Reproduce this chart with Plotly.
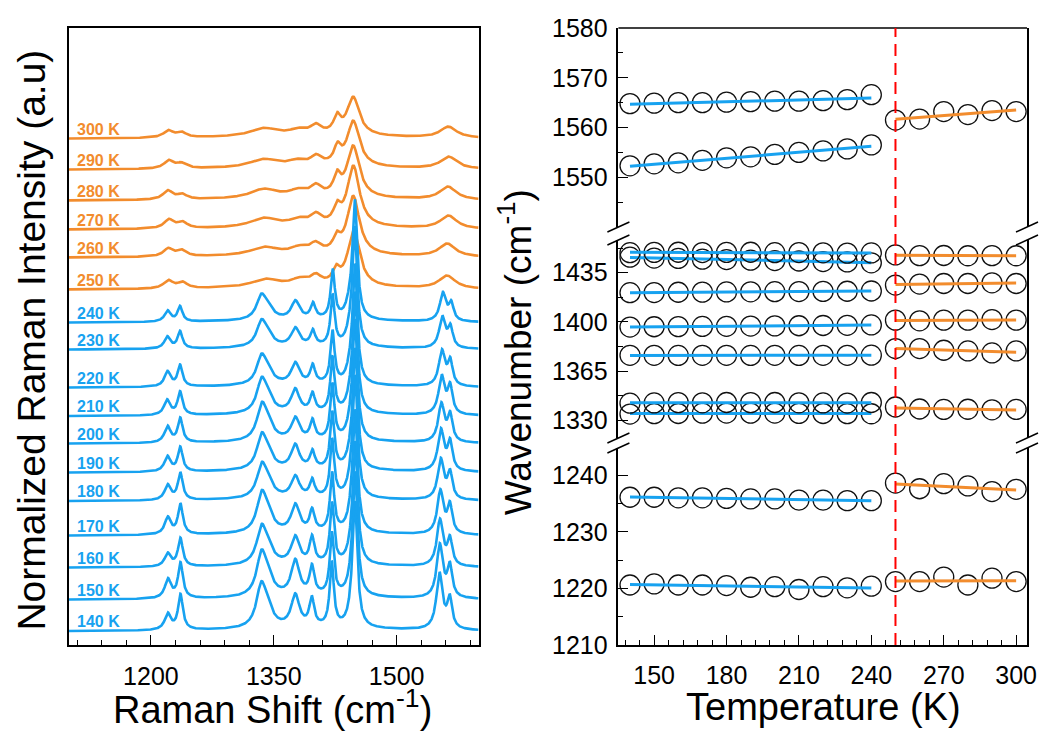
import numpy as np
import plotly.graph_objects as go

# ---------------------------------------------------------------- data
T_LOW = [140, 150, 160, 170, 180, 190, 200, 210, 220, 230, 240]
T_HIGH = [250, 260, 270, 280, 290, 300]

# fitted Raman mode positions (cm-1), low-temperature phase
NU_LOW_1221 = [1220.6, 1220.8, 1220.6, 1220.6, 1220.5, 1220.2, 1220.3, 1219.8, 1220.3, 1220.1, 1220.4]
NU_LOW_1236 = [1236.1, 1236.1, 1236.0, 1236.0, 1235.9, 1235.8, 1235.8, 1235.6, 1235.6, 1235.5, 1235.5]
NU_LOW_1335 = [1334.6, 1334.9, 1335.0, 1335.2, 1335.3, 1335.2, 1335.3, 1335.1, 1335.0, 1334.9, 1334.8]
NU_LOW_1342 = [1342.3, 1342.5, 1342.7, 1342.6, 1342.8, 1342.7, 1342.8, 1342.6, 1342.5, 1342.4, 1342.8]
NU_LOW_1376 = [1376.3, 1376.3, 1376.2, 1376.3, 1376.3, 1376.2, 1376.3, 1376.2, 1376.3, 1376.3, 1376.4]
NU_LOW_1397 = [1396.4, 1396.6, 1396.7, 1396.8, 1396.9, 1397.1, 1397.2, 1397.3, 1397.5, 1397.6, 1397.9]
NU_LOW_1421 = [1420.8, 1420.9, 1421.1, 1421.2, 1421.3, 1421.4, 1421.5, 1421.6, 1421.7, 1421.8, 1422.0]
NU_LOW_1443 = [1446.0, 1445.4, 1445.1, 1444.6, 1444.3, 1443.9, 1443.6, 1443.3, 1442.9, 1442.6, 1442.0]
NU_LOW_1449 = [1449.2, 1449.4, 1449.5, 1449.3, 1449.4, 1449.5, 1449.2, 1449.3, 1449.1, 1448.9, 1449.0]
NU_LOW_1553 = [1552.3, 1552.7, 1552.9, 1553.4, 1553.9, 1554.1, 1554.6, 1555.0, 1555.3, 1555.7, 1556.5]
NU_LOW_1565 = [1564.8, 1564.9, 1565.0, 1565.0, 1565.1, 1565.2, 1565.3, 1565.3, 1565.4, 1565.6, 1566.6]

# fitted Raman mode positions (cm-1), high-temperature phase
NU_HIGH_1221 = [1221.2, 1221.2, 1222.0, 1220.6, 1221.8, 1221.2]
NU_HIGH_1238 = [1238.6, 1237.6, 1238.5, 1238.1, 1237.1, 1237.5]
NU_HIGH_1338 = [1339.6, 1338.2, 1337.9, 1338.0, 1337.6, 1337.9]
NU_HIGH_1379 = [1381.1, 1381.1, 1379.9, 1379.4, 1378.0, 1379.4]
NU_HIGH_1401 = [1401.3, 1400.8, 1401.3, 1401.3, 1401.7, 1401.3]
NU_HIGH_1427 = [1426.2, 1426.9, 1427.3, 1427.3, 1427.8, 1427.3]
NU_HIGH_1447 = [1447.6, 1447.1, 1447.2, 1447.0, 1447.1, 1447.0]
NU_HIGH_1562 = [1561.5, 1561.7, 1563.2, 1562.6, 1563.4, 1563.2]

# peak amplitudes (a.u.) of each mode in the stacked spectra
AMP_LOW_1221 = [16, 19, 13, 17, 15, 15, 16, 15, 15, 12, 11]
AMP_LOW_1236 = [35, 35, 28, 30, 27, 24, 24, 23, 21, 17, 15]
AMP_LOW_1335 = [39, 39, 34, 35, 30, 31, 32, 30, 26, 23, 22]
AMP_LOW_1342 = [15, 15, 13, 14, 12, 12, 13, 12, 10, 9, 9]
AMP_LOW_1376 = [32, 35, 27, 27, 21, 24, 22, 23, 21, 18, 18]
AMP_LOW_1397 = [28, 28, 26, 21, 17, 17, 19, 18, 18, 15, 15]
AMP_LOW_1421 = [64, 62, 60, 58, 57, 56, 55, 54, 52, 50, 48]
AMP_LOW_1443 = [12, 12, 11, 11, 11, 10, 10, 10, 9, 9, 9]
AMP_LOW_1449 = [117, 117, 117, 117, 117, 117, 117, 117, 117, 117, 117]
AMP_LOW_1553 = [56, 53, 46, 43, 40, 41, 38, 38, 35, 31, 28]
AMP_LOW_1565 = [30, 31, 26, 28, 26, 28, 26, 27, 24, 20, 17]

AMP_HIGH_1221 = [8, 8, 9, 9, 8, 7]
AMP_HIGH_1238 = [6, 6, 6, 5, 5, 5]
AMP_HIGH_1338 = [8, 8, 9, 9, 8, 8]
AMP_HIGH_1379 = [6, 6, 6, 6, 5, 5]
AMP_HIGH_1401 = [9, 9, 10, 10, 9, 9]
AMP_HIGH_1427 = [13, 13, 15, 18, 16, 16]
AMP_HIGH_1447 = [55, 58, 60, 51, 45, 38]
AMP_HIGH_1562 = [13, 13, 13, 13, 12, 11]

# half widths (cm-1) of the modes, same order as the tables below
HWHM_LOW = [4.5, 3.5, 7.0, 8.0, 6.0, 3.5, 3.0, 5.0, 3.5, 4.5, 3.5]
HWHM_HIGH = [7.0, 7.0, 20.0, 12.0, 8.0, 5.0, 9.0, 12.0]

# broad fluorescence background under every spectrum
BG_CENTER, BG_HWHM, BG_AMP = 1400.0, 120.0, 3.0

# vertical stacking offset of each spectrum
OFFSET_LOW = [13.5, 45, 77, 109, 143.5, 172, 201, 228.5, 257, 295, 322]
OFFSET_HIGH = [355, 387, 415, 444, 475, 506]

# ---------------------------------------------------------------- style
BLUE = "#17A2F0"
ORANGE = "#F28C2D"
FONT = "Liberation Sans, Arial, sans-serif"

NU_LOW = [NU_LOW_1221, NU_LOW_1236, NU_LOW_1335, NU_LOW_1342, NU_LOW_1376, NU_LOW_1397,
          NU_LOW_1421, NU_LOW_1443, NU_LOW_1449, NU_LOW_1553, NU_LOW_1565]
AMP_LOW = [AMP_LOW_1221, AMP_LOW_1236, AMP_LOW_1335, AMP_LOW_1342, AMP_LOW_1376, AMP_LOW_1397,
           AMP_LOW_1421, AMP_LOW_1443, AMP_LOW_1449, AMP_LOW_1553, AMP_LOW_1565]
NU_HIGH = [NU_HIGH_1221, NU_HIGH_1238, NU_HIGH_1338, NU_HIGH_1379, NU_HIGH_1401,
           NU_HIGH_1427, NU_HIGH_1447, NU_HIGH_1562]
AMP_HIGH = [AMP_HIGH_1221, AMP_HIGH_1238, AMP_HIGH_1338, AMP_HIGH_1379, AMP_HIGH_1401,
            AMP_HIGH_1427, AMP_HIGH_1447, AMP_HIGH_1562]

shift = np.linspace(1100, 1600, 2001)


def lorentz(x, c, w, a):
    return a / (1.0 + ((x - c) / w) ** 2)


def spectrum(i, nus, amps, widths):
    y = lorentz(shift, BG_CENTER, BG_HWHM, BG_AMP)
    for nu, amp, w in zip(nus, amps, widths):
        y = y + lorentz(shift, nu[i], w, amp[i])
    return y


fig = go.Figure()
annotations = []

# stacked spectra: high-temperature phase (orange) underneath, low-temperature phase (blue) on top
for temps, nus, amps, widths, offsets, color in (
    (T_HIGH, NU_HIGH, AMP_HIGH, HWHM_HIGH, OFFSET_HIGH, ORANGE),
    (T_LOW, NU_LOW, AMP_LOW, HWHM_LOW, OFFSET_LOW, BLUE),
):
    for i, t in enumerate(temps):
        fig.add_trace(go.Scatter(
            x=shift, y=spectrum(i, nus, amps, widths) + offsets[i],
            mode="lines", line=dict(color=color, width=2.6),
            xaxis="x", yaxis="y", showlegend=False, hoverinfo="skip"))
        annotations.append(dict(
            x=1107, y=offsets[i] + 10, xref="x", yref="y", text=f"<b>{t} K</b>",
            showarrow=False, xanchor="left", yanchor="middle",
            font=dict(family=FONT, size=16, color=color)))

# mode position vs temperature, split over three y-axis segments
SEGMENTS = [
    ("y4", [NU_LOW_1553, NU_LOW_1565], [NU_HIGH_1562]),
    ("y3", [NU_LOW_1335, NU_LOW_1342, NU_LOW_1376, NU_LOW_1397, NU_LOW_1421,
            NU_LOW_1443, NU_LOW_1449],
     [NU_HIGH_1338, NU_HIGH_1379, NU_HIGH_1401, NU_HIGH_1427, NU_HIGH_1447]),
    ("y2", [NU_LOW_1221, NU_LOW_1236], [NU_HIGH_1221, NU_HIGH_1238]),
]
for yax, lows, highs in SEGMENTS:
    for temps, group, color in ((T_LOW, lows, BLUE), (T_HIGH, highs, ORANGE)):
        for nu in group:
            fig.add_trace(go.Scatter(
                x=temps, y=nu, mode="markers", xaxis="x2", yaxis=yax,
                marker=dict(symbol="circle-open", size=20, color="#111111",
                            line=dict(width=1.3, color="#111111")),
                showlegend=False, hoverinfo="skip"))
            slope, icpt = np.polyfit(temps, nu, 1)
            tt = np.array([temps[0], temps[-1]], dtype=float)
            fig.add_trace(go.Scatter(
                x=tt, y=slope * tt + icpt, mode="lines", xaxis="x2", yaxis=yax,
                line=dict(color=color, width=3), showlegend=False, hoverinfo="skip"))

# ---------------------------------------------------------------- axes
tickfont = dict(family=FONT, size=25, color="black")
common = dict(showgrid=False, zeroline=False, showline=True, linecolor="black",
              linewidth=1.5, ticks="inside", tickcolor="black", tickwidth=1.4,
              ticklen=10, tickfont=tickfont)
minor_style = dict(ticks="inside", ticklen=5, tickcolor="black", tickwidth=1.4)

LEFT_DOM = [0, 0.4275]
RIGHT_DOM = [0.5735, 1]

fig.update_layout(
    width=1049, height=732,
    margin=dict(l=69, r=14, t=28, b=87),
    paper_bgcolor="white", plot_bgcolor="white",
    xaxis=dict(domain=LEFT_DOM, range=[1100, 1600], anchor="y", mirror=True,
               tickmode="array", tickvals=[1200, 1350, 1500], ticklabelstandoff=8,
               minor=dict(tickvals=list(range(1110, 1600, 30)), **minor_style),
               **common),
    yaxis=dict(domain=[0, 1], range=[0, 617], anchor="x", mirror=True,
               showticklabels=False, showgrid=False, zeroline=False, showline=True,
               linecolor="black", linewidth=1.5, ticks=""),
    xaxis2=dict(domain=RIGHT_DOM, range=[135.2, 304.5], anchor="y2",
                tickmode="array", tickvals=[150, 180, 210, 240, 270, 300],
                ticklabelstandoff=7,
                minor=dict(tickvals=list(range(138, 305, 6)), **minor_style),
                **common),
    yaxis2=dict(domain=[0, 0.3193], range=[1210, 1244.8], anchor="x2", mirror=True,
                tickmode="array", tickvals=[1210, 1220, 1230, 1240], ticklabelstandoff=4,
                minor=dict(tickvals=[1215, 1225, 1235], **minor_style),
                **common),
    yaxis3=dict(domain=[0.3355, 0.6564], range=[1317.6, 1458.2], anchor="x2", mirror=True,
                tickmode="array", tickvals=[1330, 1365, 1400, 1435], ticklabelstandoff=4,
                minor=dict(tickvals=[1347.5, 1382.5, 1417.5, 1452.5], **minor_style),
                **common),
    yaxis4=dict(domain=[0.6775, 1], range=[1540, 1580], anchor="x2", mirror=True,
                tickmode="array", tickvals=[1550, 1560, 1570, 1580], ticklabelstandoff=4,
                minor=dict(tickvals=[1545, 1555, 1565, 1575], **minor_style),
                **common),
)

# ---------------------------------------------------------------- decorations
shapes = []
# top edge of the upper segment
shapes.append(dict(type="line", xref="x2 domain", yref="y4 domain", x0=0, x1=1, y0=1, y1=1,
                   line=dict(color="black", width=1.5)))
# axis-break slashes at both sides of every gap
for yref, edge in (("y4 domain", 0), ("y3 domain", 1), ("y3 domain", 0), ("y2 domain", 1)):
    for xa in (0, 1):
        shapes.append(dict(type="line", xref="x2 domain", yref=yref,
                           xsizemode="pixel", xanchor=xa, x0=-11, x1=11,
                           ysizemode="pixel", yanchor=edge, y0=-5, y1=5,
                           line=dict(color="black", width=1.5)))
# phase transition marker
shapes.append(dict(type="line", xref="x2", yref="paper", x0=250, x1=250, y0=0, y1=1,
                   line=dict(color="#FF0000", width=2, dash="12px,7px")))
fig.update_layout(shapes=shapes)

title_font = dict(family=FONT, size=38, color="black")
annotations += [
    dict(text="Normalized Raman Intensity (a.u)", xref="paper", yref="paper",
         x=-0.0393, y=0.494, textangle=-90, showarrow=False,
         font=dict(family=FONT, size=39, color="black"),
         xanchor="center", yanchor="middle"),
    dict(text="Raman Shift (cm<sup>-1</sup>)", xref="paper", yref="paper",
         x=0.2122, y=-0.101, showarrow=False, font=title_font,
         xanchor="center", yanchor="middle"),
    dict(text="Wavenumber (cm<sup>-1</sup>)", xref="paper", yref="paper",
         x=0.4669, y=0.475, textangle=-90, showarrow=False,
         font=dict(family=FONT, size=37, color="black"),
         xanchor="center", yanchor="middle"),
    dict(text="Temperature (K)", xref="paper", yref="paper",
         x=0.7878, y=-0.101, showarrow=False, font=title_font,
         xanchor="center", yanchor="middle"),
]
fig.update_layout(annotations=annotations)

fig.write_html("out.html")
